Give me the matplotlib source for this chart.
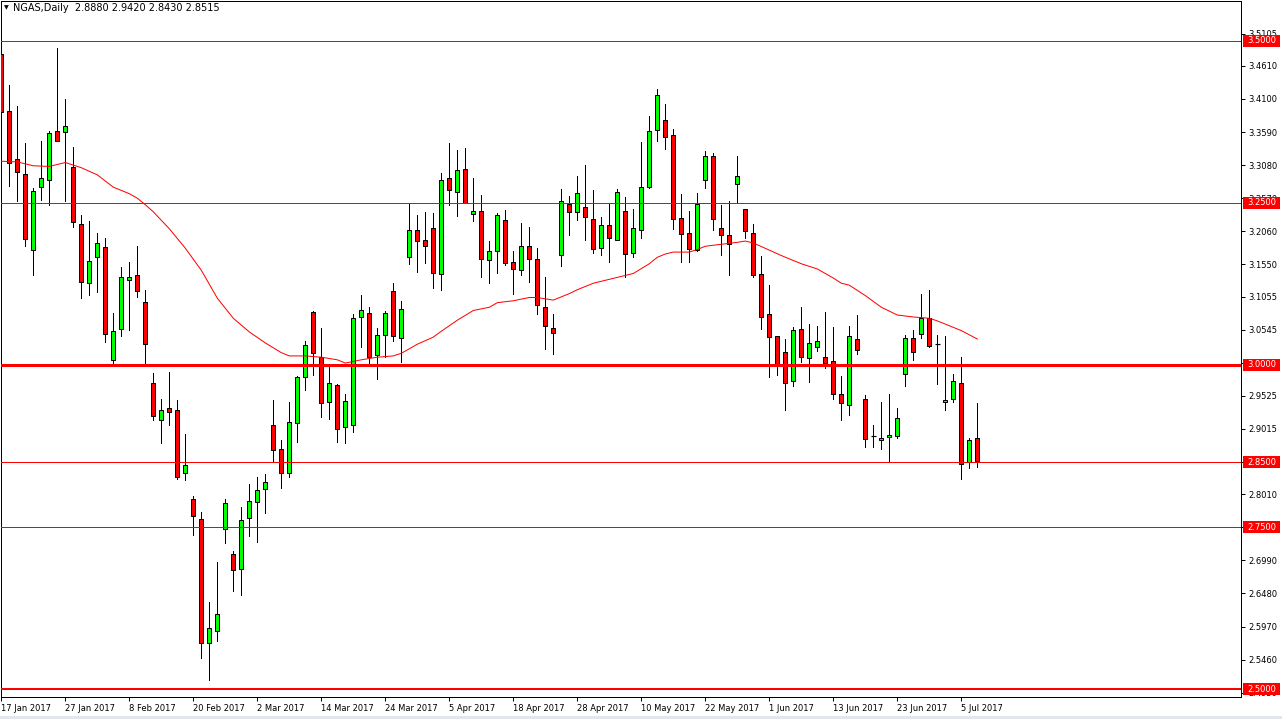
import matplotlib
matplotlib.use('Agg')
import matplotlib.pyplot as plt
import matplotlib.transforms as mtransforms
from matplotlib.patches import Rectangle

# Giá trị nến NGAS Daily, chỉ số 0 = 17 Jan 2017
opens = [3.479, 3.391, 3.317, 3.294, 3.177, 3.275, 3.285, 3.360, 3.359, 3.305,
         3.217, 3.127, 3.167, 3.182, 3.007, 3.055, 3.131, 3.138, 3.097, 2.972,
         2.916, 2.933, 2.931, 2.833, 2.793, 2.762, 2.571, 2.590, 2.748, 2.708,
         2.685, 2.765, 2.789, 2.809, 2.907, 2.870, 2.833, 2.910, 2.981, 3.081,
         3.013, 2.943, 2.969, 2.905, 2.907, 3.074, 3.080, 3.015, 3.046, 3.114,
         3.041, 3.166, 3.208, 3.192, 3.211, 3.140, 3.288, 3.266, 3.302, 3.232,
         3.237, 3.162, 3.175, 3.223, 3.158, 3.146, 3.184, 3.163, 3.089, 3.057,
         3.169, 3.248, 3.235, 3.243, 3.225, 3.180, 3.215, 3.193, 3.238, 3.172,
         3.208, 3.274, 3.362, 3.377, 3.354, 3.226, 3.203, 3.177, 3.285, 3.322,
         3.211, 3.200, 3.279, 3.240, 3.203, 3.140, 3.078, 3.044, 3.020, 2.975,
         3.055, 3.011, 3.027, 3.013, 3.006, 2.956, 2.938, 3.040, 2.947, 2.891,
         2.885, 2.889, 2.890, 2.986, 3.041, 3.047, 3.072, 3.032, 2.943, 2.947,
         2.972, 2.850, 2.888]
highs = [3.508, 3.431, 3.399, 3.342, 3.273, 3.345, 3.360, 3.488, 3.410, 3.336,
         3.231, 3.222, 3.204, 3.195, 3.080, 3.151, 3.158, 3.183, 3.116, 2.988,
         2.948, 2.989, 2.946, 2.894, 2.798, 2.773, 2.635, 2.696, 2.793, 2.714,
         2.781, 2.817, 2.827, 2.832, 2.946, 2.884, 2.943, 2.983, 3.037, 3.083,
         3.057, 2.999, 2.971, 2.955, 3.078, 3.108, 3.089, 3.057, 3.083, 3.126,
         3.099, 3.249, 3.231, 3.235, 3.234, 3.296, 3.342, 3.331, 3.334, 3.288,
         3.262, 3.191, 3.234, 3.239, 3.176, 3.219, 3.213, 3.180, 3.136, 3.079,
         3.271, 3.260, 3.292, 3.308, 3.269, 3.228, 3.248, 3.271, 3.259, 3.240,
         3.344, 3.384, 3.425, 3.402, 3.363, 3.264, 3.238, 3.265, 3.329, 3.326,
         3.246, 3.252, 3.322, 3.240, 3.218, 3.168, 3.123, 3.044, 3.040, 3.058,
         3.089, 3.063, 3.060, 3.082, 3.059, 2.983, 3.060, 3.077, 2.953, 2.908,
         2.943, 2.955, 2.934, 3.046, 3.054, 3.110, 3.115, 3.046, 3.044, 2.986,
         3.013, 2.887, 2.942]
lows = [3.351, 3.276, 3.252, 3.184, 3.139, 3.254, 3.247, 3.345, 3.252, 3.213,
        3.104, 3.108, 3.113, 3.036, 3.003, 3.045, 3.054, 3.105, 3.001, 2.915,
        2.880, 2.908, 2.825, 2.823, 2.738, 2.549, 2.515, 2.575, 2.725, 2.652,
        2.646, 2.737, 2.727, 2.772, 2.851, 2.811, 2.827, 2.881, 2.962, 2.984,
        2.920, 2.917, 2.882, 2.880, 2.896, 3.028, 3.003, 2.978, 3.012, 3.037,
        3.005, 3.155, 3.144, 3.157, 3.119, 3.116, 3.247, 3.230, 3.250, 3.222,
        3.136, 3.127, 3.142, 3.154, 3.109, 3.138, 3.128, 3.078, 3.024, 3.017,
        3.153, 3.201, 3.224, 3.193, 3.172, 3.170, 3.158, 3.193, 3.135, 3.166,
        3.196, 3.273, 3.345, 3.333, 3.210, 3.158, 3.158, 3.175, 3.273, 3.208,
        3.170, 3.139, 3.250, 3.196, 3.135, 3.056, 2.982, 2.984, 2.930, 2.967,
        3.004, 2.974, 3.021, 2.996, 2.947, 2.915, 2.923, 3.017, 2.874, 2.873,
        2.871, 2.851, 2.888, 2.968, 3.007, 3.041, 3.027, 2.970, 2.930, 2.943,
        2.824, 2.842, 2.843]
closes = [3.390, 3.311, 3.297, 3.194, 3.268, 3.288, 3.357, 3.345, 3.368, 3.221,
          3.128, 3.161, 3.188, 3.047, 3.052, 3.135, 3.135, 3.114, 3.033, 2.922,
          2.930, 2.927, 2.827, 2.846, 2.767, 2.571, 2.594, 2.617, 2.787, 2.684,
          2.761, 2.790, 2.807, 2.819, 2.869, 2.833, 2.912, 2.981, 3.031, 3.019,
          2.941, 2.972, 2.901, 2.944, 3.072, 3.084, 3.013, 3.046, 3.080, 3.044,
          3.087, 3.208, 3.191, 3.183, 3.141, 3.285, 3.269, 3.300, 3.250, 3.237,
          3.164, 3.175, 3.231, 3.157, 3.148, 3.184, 3.163, 3.092, 3.060, 3.049,
          3.252, 3.235, 3.265, 3.228, 3.178, 3.215, 3.195, 3.266, 3.171, 3.211,
          3.274, 3.360, 3.416, 3.351, 3.225, 3.202, 3.179, 3.248, 3.322, 3.225,
          3.200, 3.186, 3.292, 3.206, 3.138, 3.074, 3.043, 3.001, 2.973, 3.054,
          3.013, 3.034, 3.037, 3.003, 2.956, 2.941, 3.044, 3.023, 2.886, 2.891,
          2.887, 2.892, 2.918, 3.041, 3.020, 3.073, 3.030, 3.032, 2.946, 2.975,
          2.847, 2.885, 2.8515]

# Đường MA (đọc tại một số nến)
ma_idx = [0, 2, 4, 6, 7, 8, 10, 12, 14, 16, 17, 18, 19, 21, 23, 25, 27, 29, 31, 33,
          35, 36, 38, 40, 42, 43, 45, 47, 49, 50, 52, 54, 55, 57, 59, 61, 62, 64, 66, 67,
          68, 69, 71, 72, 74, 77, 79, 81, 82, 83, 84, 86, 87, 88, 90, 92, 93, 94, 96, 98,
          100, 102, 104, 105, 106, 108, 110, 112, 114, 116, 117, 118, 120, 122]
ma_val = [3.314, 3.313, 3.307, 3.306, 3.309, 3.312, 3.304, 3.293, 3.274, 3.264, 3.257, 3.247,
          3.236, 3.210, 3.180, 3.146, 3.103, 3.072, 3.051, 3.034, 3.019, 3.014, 3.014, 3.012,
          3.008, 3.003, 3.008, 3.012, 3.014, 3.018, 3.032, 3.043, 3.052, 3.069, 3.084, 3.089,
          3.096, 3.099, 3.104, 3.104, 3.102, 3.100, 3.110, 3.116, 3.126, 3.135, 3.141, 3.156,
          3.166, 3.171, 3.174, 3.174, 3.178, 3.183, 3.186, 3.189, 3.191, 3.188, 3.177, 3.166,
          3.156, 3.148, 3.134, 3.126, 3.123, 3.107, 3.089, 3.077, 3.074, 3.072, 3.068, 3.063,
          3.053, 3.040]

# Đường ngang và nhãn trục
h_levels = [3.5, 3.25, 3.0, 2.85, 2.75, 2.5]
h_widths = [1, 1, 3, 1, 1, 2]
y_ticks = [3.5105, 3.4610, 3.4100, 3.3590, 3.3080, 3.2570, 3.2060, 3.1550, 3.1055, 3.0545,
           3.0035, 2.9525, 2.9015, 2.8505, 2.8010, 2.7500, 2.6990, 2.6480, 2.5970, 2.5460, 2.4950]
date_idx = [0, 8, 16, 24, 32, 40, 48, 56, 64, 72, 80, 88, 96, 104, 112, 120]
date_labels = ['17 Jan 2017', '27 Jan 2017', '8 Feb 2017', '20 Feb 2017', '2 Mar 2017',
               '14 Mar 2017', '24 Mar 2017', '5 Apr 2017', '18 Apr 2017', '28 Apr 2017',
               '10 May 2017', '22 May 2017', '1 Jun 2017', '13 Jun 2017', '23 Jun 2017',
               '5 Jul 2017']
title_text = 'NGAS,Daily  2.8880 2.9420 2.8430 2.8515'

W, H = 1282, 719
PX = 0.72  # 1 px tính theo point ở dpi 100

fig = plt.figure(figsize=(W / 100, H / 100), dpi=100)
fig.patch.set_facecolor('white')
ax = fig.add_axes([0.5 / W, 22 / H, 1240.5 / W, 696 / H])

# Vẽ nến
bw = 0.5
for i in range(len(opens)):
    o, h, l, c = opens[i], highs[i], lows[i], closes[i]
    ax.vlines(i, l, h, color='black', lw=PX, zorder=2, antialiased=False)
    if c == o or (i in (109, 117)):
        ax.hlines(c, i - bw / 2 - 0.06, i + bw / 2 + 0.06, color='black', lw=PX * 1.2, zorder=3)
        continue
    col = '#00ff00' if c > o else '#ff0000'
    ax.add_patch(Rectangle((i - bw / 2, min(o, c)), bw, abs(c - o),
                           facecolor=col, edgecolor='black', lw=PX, zorder=3))

# MA
ax.plot(ma_idx, ma_val, color='red', lw=PX, zorder=4)

# Đường ngang đỏ
for lv, w in zip(h_levels, h_widths):
    ax.axhline(lv, color='red', lw=w * PX, zorder=5, antialiased=False)

ax.set_xlim(-0.1, 154.96)
ax.set_ylim(2.4884, 3.5609)

for s in ax.spines.values():
    s.set_linewidth(PX)
    s.set_color('black')

# Trục giá bên phải
ax.yaxis.tick_right()
ax.set_yticks(y_ticks)
ax.set_yticklabels(['%.4f' % v for v in y_ticks])
ax.tick_params(axis='y', direction='out', length=3, width=PX, labelsize=6, pad=2, colors='black')

# Trục thời gian
ax.set_xticks(date_idx)
ax.set_xticklabels(date_labels)
ax.tick_params(axis='x', direction='out', length=3, width=PX, labelsize=6, pad=2, colors='black')
for lab in ax.get_xticklabels():
    lab.set_horizontalalignment('left')

# Nhãn đỏ cho các đường ngang (che một phần nhãn trục như trong MT4)
blend = mtransforms.blended_transform_factory(fig.transFigure, ax.transData)
box_h = 12 / 649
for lv in h_levels:
    ax.add_patch(Rectangle((1243 / W, lv - box_h / 2), 37 / W, box_h, transform=blend,
                           facecolor='#ff0000', edgecolor='none', clip_on=False, zorder=6))
    ax.text(1261.5 / W, lv, '%.4f' % lv, transform=blend, ha='center', va='center',
            color='white', fontsize=6, clip_on=False, zorder=7)

# Tiêu đề góc trên trái
fig.text(4 / W, 1 - 8 / H, '\u25bc', fontsize=4.5, va='center', ha='left')
fig.text(13 / W, 1 - 8 / H, title_text, fontsize=7, va='center', ha='left')

# Dải xám dưới cùng
fig.patches.append(Rectangle((0, 0), 1, 3 / H, transform=fig.transFigure,
                             facecolor='#e3e6ea', edgecolor='none'))

fig.savefig('out.png', dpi=100)
